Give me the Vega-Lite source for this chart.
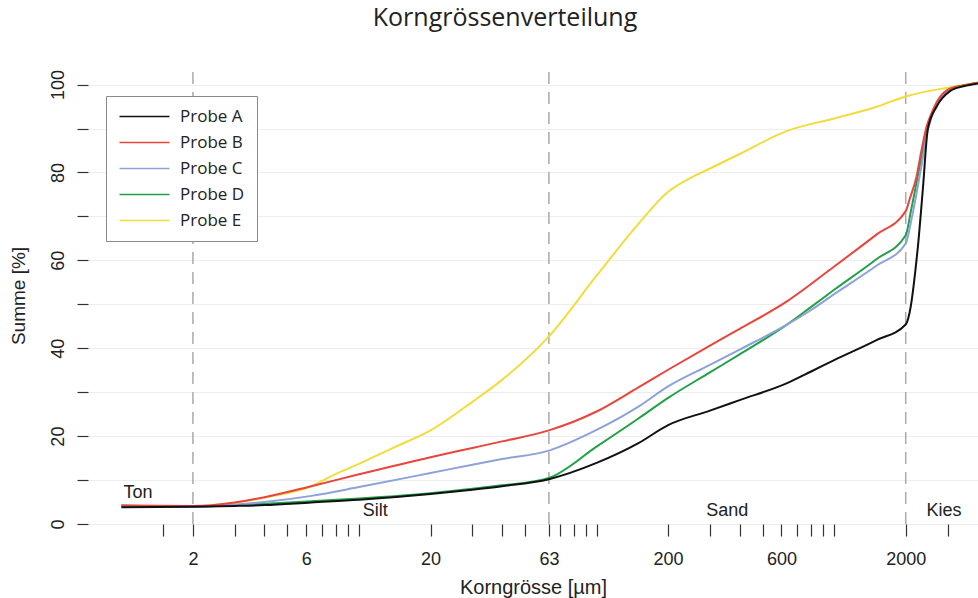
{
  "$schema": "https://vega.github.io/schema/vega-lite/v6.json",
  "width": 890,
  "height": 457,
  "autosize": {"type": "none"},
  "padding": {"left": 88, "top": 67, "right": 0, "bottom": 74},
  "background": "white",
  "config": {"view": {"stroke": null}, "font": "Liberation Sans"},
  "title": {
    "text": "Korngrössenverteilung",
    "anchor": "middle",
    "dx": -28,
    "offset": 15,
    "baseline": "alphabetic",
    "font": "Open Sans",
    "fontSize": 25,
    "fontWeight": "normal",
    "color": "#222222"
  },
  "datasets": {
    "bounds": [{"x": 2}, {"x": 63}, {"x": 2000}],
    "classes": [
      {"x": 1.174, "y": 5.85, "label": "Ton"},
      {"x": 11.7, "y": 1.75, "label": "Silt"},
      {"x": 355, "y": 1.75, "label": "Sand"},
      {"x": 2900, "y": 1.75, "label": "Kies"}
    ],
    "curves": [
      {"probe": "Probe E", "size": 1, "pct": 4.1},
      {"probe": "Probe E", "size": 2, "pct": 4.0},
      {"probe": "Probe E", "size": 3, "pct": 4.8},
      {"probe": "Probe E", "size": 4, "pct": 6.0},
      {"probe": "Probe E", "size": 6.3, "pct": 8.6},
      {"probe": "Probe E", "size": 8, "pct": 11.4},
      {"probe": "Probe E", "size": 10, "pct": 13.7},
      {"probe": "Probe E", "size": 14, "pct": 17.4},
      {"probe": "Probe E", "size": 20, "pct": 21.3},
      {"probe": "Probe E", "size": 30, "pct": 27.8},
      {"probe": "Probe E", "size": 40, "pct": 32.8},
      {"probe": "Probe E", "size": 63, "pct": 42.7},
      {"probe": "Probe E", "size": 100, "pct": 56.5},
      {"probe": "Probe E", "size": 150, "pct": 68.3},
      {"probe": "Probe E", "size": 200, "pct": 75.6},
      {"probe": "Probe E", "size": 250, "pct": 78.8},
      {"probe": "Probe E", "size": 300, "pct": 80.9},
      {"probe": "Probe E", "size": 400, "pct": 84.2},
      {"probe": "Probe E", "size": 630, "pct": 89.4},
      {"probe": "Probe E", "size": 1000, "pct": 92.3},
      {"probe": "Probe E", "size": 1500, "pct": 94.9},
      {"probe": "Probe E", "size": 2000, "pct": 97.3},
      {"probe": "Probe E", "size": 3000, "pct": 99.3},
      {"probe": "Probe E", "size": 3500, "pct": 99.9},
      {"probe": "Probe E", "size": 4100, "pct": 100.4},

      {"probe": "Probe D", "size": 1, "pct": 4.2},
      {"probe": "Probe D", "size": 2, "pct": 4.0},
      {"probe": "Probe D", "size": 3, "pct": 4.3},
      {"probe": "Probe D", "size": 4, "pct": 4.6},
      {"probe": "Probe D", "size": 6.3, "pct": 5.2},
      {"probe": "Probe D", "size": 10, "pct": 5.8},
      {"probe": "Probe D", "size": 20, "pct": 7.0},
      {"probe": "Probe D", "size": 30, "pct": 8.0},
      {"probe": "Probe D", "size": 40, "pct": 8.8},
      {"probe": "Probe D", "size": 63, "pct": 10.5},
      {"probe": "Probe D", "size": 100, "pct": 17.6},
      {"probe": "Probe D", "size": 150, "pct": 24.0},
      {"probe": "Probe D", "size": 200, "pct": 28.7},
      {"probe": "Probe D", "size": 300, "pct": 34.5},
      {"probe": "Probe D", "size": 400, "pct": 38.6},
      {"probe": "Probe D", "size": 630, "pct": 45.3},
      {"probe": "Probe D", "size": 800, "pct": 49.4},
      {"probe": "Probe D", "size": 1000, "pct": 53.3},
      {"probe": "Probe D", "size": 1500, "pct": 60.2},
      {"probe": "Probe D", "size": 2000, "pct": 65.7},
      {"probe": "Probe D", "size": 2100, "pct": 71.0},
      {"probe": "Probe D", "size": 2200, "pct": 76.5},
      {"probe": "Probe D", "size": 2330, "pct": 83.5},
      {"probe": "Probe D", "size": 2450, "pct": 89.5},
      {"probe": "Probe D", "size": 2570, "pct": 93.0},
      {"probe": "Probe D", "size": 2700, "pct": 95.8},
      {"probe": "Probe D", "size": 3000, "pct": 98.7},
      {"probe": "Probe D", "size": 3500, "pct": 99.8},
      {"probe": "Probe D", "size": 4100, "pct": 100.5},

      {"probe": "Probe C", "size": 1, "pct": 4.0},
      {"probe": "Probe C", "size": 2, "pct": 3.9},
      {"probe": "Probe C", "size": 3, "pct": 4.4},
      {"probe": "Probe C", "size": 4, "pct": 5.0},
      {"probe": "Probe C", "size": 6.3, "pct": 6.4},
      {"probe": "Probe C", "size": 10, "pct": 8.4},
      {"probe": "Probe C", "size": 20, "pct": 11.6},
      {"probe": "Probe C", "size": 30, "pct": 13.5},
      {"probe": "Probe C", "size": 40, "pct": 14.8},
      {"probe": "Probe C", "size": 63, "pct": 16.7},
      {"probe": "Probe C", "size": 100, "pct": 21.4},
      {"probe": "Probe C", "size": 150, "pct": 26.7},
      {"probe": "Probe C", "size": 200, "pct": 31.3},
      {"probe": "Probe C", "size": 300, "pct": 36.2},
      {"probe": "Probe C", "size": 400, "pct": 39.7},
      {"probe": "Probe C", "size": 630, "pct": 45.3},
      {"probe": "Probe C", "size": 800, "pct": 48.7},
      {"probe": "Probe C", "size": 1000, "pct": 52.3},
      {"probe": "Probe C", "size": 1500, "pct": 58.7},
      {"probe": "Probe C", "size": 2000, "pct": 63.8},
      {"probe": "Probe C", "size": 2100, "pct": 68.5},
      {"probe": "Probe C", "size": 2200, "pct": 74.0},
      {"probe": "Probe C", "size": 2330, "pct": 81.5},
      {"probe": "Probe C", "size": 2450, "pct": 88.5},
      {"probe": "Probe C", "size": 2570, "pct": 92.5},
      {"probe": "Probe C", "size": 2700, "pct": 95.5},
      {"probe": "Probe C", "size": 3000, "pct": 98.6},
      {"probe": "Probe C", "size": 3500, "pct": 99.7},
      {"probe": "Probe C", "size": 4100, "pct": 100.5},

      {"probe": "Probe B", "size": 1, "pct": 4.2},
      {"probe": "Probe B", "size": 2, "pct": 4.1},
      {"probe": "Probe B", "size": 3, "pct": 4.9},
      {"probe": "Probe B", "size": 4, "pct": 6.1},
      {"probe": "Probe B", "size": 6.3, "pct": 8.6},
      {"probe": "Probe B", "size": 10, "pct": 11.3},
      {"probe": "Probe B", "size": 20, "pct": 15.2},
      {"probe": "Probe B", "size": 30, "pct": 17.3},
      {"probe": "Probe B", "size": 40, "pct": 18.8},
      {"probe": "Probe B", "size": 63, "pct": 21.3},
      {"probe": "Probe B", "size": 100, "pct": 25.6},
      {"probe": "Probe B", "size": 150, "pct": 31.1},
      {"probe": "Probe B", "size": 200, "pct": 35.1},
      {"probe": "Probe B", "size": 300, "pct": 40.6},
      {"probe": "Probe B", "size": 400, "pct": 44.4},
      {"probe": "Probe B", "size": 630, "pct": 50.6},
      {"probe": "Probe B", "size": 1000, "pct": 58.6},
      {"probe": "Probe B", "size": 1500, "pct": 65.8},
      {"probe": "Probe B", "size": 2000, "pct": 71.2},
      {"probe": "Probe B", "size": 2080, "pct": 74.0},
      {"probe": "Probe B", "size": 2220, "pct": 79.0},
      {"probe": "Probe B", "size": 2330, "pct": 85.0},
      {"probe": "Probe B", "size": 2450, "pct": 90.5},
      {"probe": "Probe B", "size": 2570, "pct": 93.5},
      {"probe": "Probe B", "size": 2700, "pct": 96.0},
      {"probe": "Probe B", "size": 3000, "pct": 98.8},
      {"probe": "Probe B", "size": 3500, "pct": 99.8},
      {"probe": "Probe B", "size": 4100, "pct": 100.5},

      {"probe": "Probe A", "size": 1, "pct": 3.8},
      {"probe": "Probe A", "size": 2, "pct": 3.9},
      {"probe": "Probe A", "size": 3, "pct": 4.1},
      {"probe": "Probe A", "size": 4, "pct": 4.3},
      {"probe": "Probe A", "size": 6.3, "pct": 4.9},
      {"probe": "Probe A", "size": 10, "pct": 5.5},
      {"probe": "Probe A", "size": 20, "pct": 6.8},
      {"probe": "Probe A", "size": 30, "pct": 7.8},
      {"probe": "Probe A", "size": 40, "pct": 8.6},
      {"probe": "Probe A", "size": 63, "pct": 10.2},
      {"probe": "Probe A", "size": 100, "pct": 13.9},
      {"probe": "Probe A", "size": 150, "pct": 18.4},
      {"probe": "Probe A", "size": 200, "pct": 22.5},
      {"probe": "Probe A", "size": 300, "pct": 25.8},
      {"probe": "Probe A", "size": 400, "pct": 28.2},
      {"probe": "Probe A", "size": 630, "pct": 32.0},
      {"probe": "Probe A", "size": 800, "pct": 34.7},
      {"probe": "Probe A", "size": 1000, "pct": 37.3},
      {"probe": "Probe A", "size": 1500, "pct": 41.8},
      {"probe": "Probe A", "size": 2000, "pct": 45.4},
      {"probe": "Probe A", "size": 2100, "pct": 49.5},
      {"probe": "Probe A", "size": 2200, "pct": 58.0},
      {"probe": "Probe A", "size": 2250, "pct": 63.0},
      {"probe": "Probe A", "size": 2360, "pct": 76.0},
      {"probe": "Probe A", "size": 2480, "pct": 90.0},
      {"probe": "Probe A", "size": 2700, "pct": 95.0},
      {"probe": "Probe A", "size": 3070, "pct": 98.5},
      {"probe": "Probe A", "size": 3500, "pct": 99.6},
      {"probe": "Probe A", "size": 4100, "pct": 100.3}
    ]
  },
  "layer": [
    {
      "data": {"name": "bounds"},
      "mark": {"type": "rule", "color": "#aaaaaa", "strokeWidth": 1.5, "strokeDash": [12, 8]},
      "encoding": {
        "x": {
          "field": "x",
          "type": "quantitative",
          "scale": {"type": "log", "domain": [0.7235, 4030], "nice": false},
          "axis": {
            "values": [1.5, 2, 3, 4, 5, 6, 7, 8, 9, 10, 20, 30, 40, 50, 63, 70, 80, 90, 100, 200, 300, 400, 500, 600, 700, 800, 900, 1000, 2000, 3000],
            "labelExpr": "indexof([2, 6, 20, 63, 200, 600, 2000], datum.value) >= 0 ? datum.value + '' : ''",
            "domain": false,
            "grid": false,
            "tickSize": 12,
            "tickColor": "#333333",
            "tickWidth": 1.2,
            "labelFont": "Liberation Sans",
            "labelFontSize": 18,
            "labelColor": "#222222",
            "labelPadding": 14,
            "labelOverlap": false,
            "labelFlush": false,
            "title": "Korngrösse [µm]",
            "titleFont": "Liberation Sans",
            "titleFontSize": 20,
            "titleFontWeight": "normal",
            "titleColor": "#222222",
            "titlePadding": 9
          }
        },
        "y": {
          "datum": 0,
          "type": "quantitative",
          "scale": {"domain": [0, 104], "nice": false, "zero": false},
          "axis": {
            "values": [0, 10, 20, 30, 40, 50, 60, 70, 80, 90, 100],
            "labelExpr": "datum.value % 20 === 0 ? datum.value + '' : ''",
            "labelAngle": -90,
            "labelAlign": "center",
            "labelBaseline": "bottom",
            "labelPadding": 10,
            "labelFont": "Liberation Sans",
            "labelFontSize": 18,
            "labelColor": "#222222",
            "tickSize": 11,
            "tickColor": "#333333",
            "tickWidth": 1.2,
            "domain": false,
            "grid": true,
            "gridColor": "#ededed",
            "gridWidth": 1,
            "title": "Summe [%]",
            "titleFont": "Liberation Sans",
            "titleFontSize": 19,
            "titleFontWeight": "normal",
            "titleColor": "#222222",
            "titlePadding": 21
          }
        },
        "y2": {"datum": 104}
      }
    },
    {
      "mark": {"type": "rule", "color": "#333333", "strokeWidth": 1.2},
      "encoding": {
        "x": {"datum": 1.5, "type": "quantitative"},
        "x2": {"datum": 3000},
        "y": {"datum": 0, "type": "quantitative"}
      }
    },
    {
      "mark": {"type": "rule", "color": "#333333", "strokeWidth": 1.2},
      "encoding": {
        "x": {"datum": 0.7235, "type": "quantitative"},
        "y": {"datum": 0, "type": "quantitative"},
        "y2": {"datum": 100}
      }
    },
    {
      "data": {"name": "curves"},
      "mark": {"type": "line", "interpolate": "monotone", "strokeWidth": 2, "clip": true},
      "encoding": {
        "x": {"field": "size", "type": "quantitative"},
        "y": {"field": "pct", "type": "quantitative"},
        "color": {
          "field": "probe",
          "type": "nominal",
          "scale": {
            "domain": ["Probe A", "Probe B", "Probe C", "Probe D", "Probe E"],
            "range": ["#111111", "#e8453c", "#8da2d8", "#22a048", "#f2dc3c"]
          },
          "legend": {
            "orient": "none",
            "legendX": 18,
            "legendY": 29,
            "title": null,
            "padding": 12,
            "strokeColor": "#8a8a8a",
            "fillColor": "#ffffff",
            "symbolType": "M-1.4,0H8.6",
            "symbolSize": 100,
            "symbolStrokeWidth": 1.5,
            "labelFont": "Open Sans",
            "labelFontSize": 17,
            "labelColor": "#222222",
            "labelOffset": 45,
            "rowPadding": 8
          }
        }
      }
    },
    {
      "data": {"name": "classes"},
      "mark": {"type": "text", "font": "Liberation Sans", "fontSize": 18, "color": "#222222", "align": "center", "baseline": "alphabetic"},
      "encoding": {
        "x": {"field": "x", "type": "quantitative"},
        "y": {"field": "y", "type": "quantitative"},
        "text": {"field": "label"}
      }
    }
  ]
}
